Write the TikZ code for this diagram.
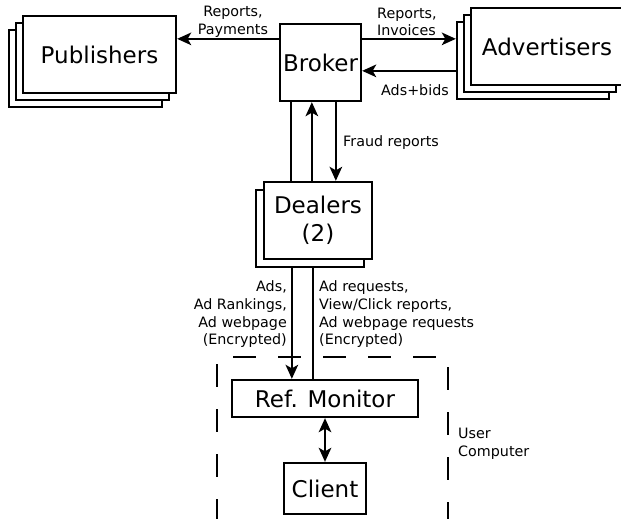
\documentclass[tikz,border=0pt]{standalone}
\usepackage{fontspec}
\setmainfont{DejaVu Sans}
\usetikzlibrary{arrows.meta}
\begin{document}
\begin{tikzpicture}[x=1pt,y=-1pt,
  box/.style={draw, line width=2.3pt, fill=white, inner sep=0pt,
              font=\fontsize{23}{28}\selectfont, align=center},
  lbl/.style={font=\fontsize{14.3}{17.7}\selectfont, inner sep=0pt},
  wire/.style={line width=2.3pt},
  arr/.style={wire, -{Stealth[length=14pt,width=12.5pt,inset=3.5pt]}},
  dbl/.style={wire, {Stealth[length=14pt,width=12.5pt,inset=3.5pt]}-{Stealth[length=14pt,width=12.5pt,inset=3.5pt]}},
  fence/.style={line width=2.3pt, dash pattern=on 23pt off 22pt}]

\useasboundingbox (0,0) rectangle (621,519);
\clip (0,0) rectangle (621,519);

% Publishers (stack of three)
\node[box, minimum width=153pt, minimum height=77pt] (pubC) at (85.5,68.5) {};
\node[box, minimum width=153pt, minimum height=77pt] (pubB) at (92.5,61.5) {};
\node[box, minimum width=153pt, minimum height=77pt] (pubA) at (99.5,54.5) {Publishers};

% Broker
\node[box, minimum width=81pt, minimum height=77pt] (broker) at (320.5,62.5) {Broker};

% Advertisers (stack of three)
\node[box, minimum width=152pt, minimum height=77pt] (advC) at (533,60.5) {};
\node[box, minimum width=152pt, minimum height=77pt] (advB) at (540,53.5) {};
\node[box, minimum width=152pt, minimum height=77pt] (advA) at (547,46.5) {Advertisers};

% Dealers (stack of two)
\node[box, minimum width=108pt, minimum height=77pt] (dealB) at (310,228.5) {};
\node[box, minimum width=108pt, minimum height=77pt] (dealA) at (318,220.5) {Dealers\\(2)};

% User computer
\node[box, minimum width=186pt, minimum height=37pt] (refmon) at (325,398.5) {Ref. Monitor};
\node[box, minimum width=82pt, minimum height=51pt] (client) at (325,488.5) {Client};

% Helper points on the broker and dealers borders
\coordinate (bkHi) at ([yshift=-16pt]broker.north east);
\coordinate (bkLo) at ([yshift=-48pt]broker.north east);
\coordinate (bkHiW) at ([yshift=-16pt]broker.north west);
\coordinate (bkS1) at ([xshift=12pt]broker.south west);
\coordinate (bkS2) at ([xshift=33pt]broker.south west);
\coordinate (bkS3) at ([xshift=57pt]broker.south west);
\coordinate (dlS1) at ([xshift=37pt]dealB.south west);
\coordinate (dlS2) at ([xshift=58pt]dealB.south west);

% Broker connections
\draw[arr] (bkHiW) -- (bkHiW -| pubA.east);
\draw[arr] (bkHi) -- (bkHi -| advC.west);
\draw[arr] (bkLo -| advC.west) -- (bkLo);
\draw[wire] (bkS1) -- (bkS1 |- dealA.north);
\draw[arr] (bkS2 |- dealA.north) -- (bkS2);
\draw[arr] (bkS3) -- (bkS3 |- dealA.north);

% Dealers to reference monitor
\draw[arr] (dlS1) -- (dlS1 |- refmon.north);
\draw[wire] (dlS2) -- (dlS2 |- refmon.north);

% Reference monitor to client
\draw[dbl] (refmon.south) -- (client.north);

% Dashed enclosure of the user computer
\coordinate (encTL) at (233,357);
\coordinate (encTR) at (448,357);
\coordinate (encL) at (217,364);
\coordinate (encLB) at (217,520);
\coordinate (encR) at (448,367);
\coordinate (encRB) at (448,520);
\draw[fence] (encTL) -- (encTR);
\draw[fence] (encL) -- (encL |- encLB);
\draw[fence] (encR) -- (encR |- encRB);
\draw[fence] (encLB) -- (encRB);

% Labels
\node[lbl, align=center] (lpub) at (233,22) {Reports,\\Payments};
\node[lbl, align=left, anchor=west] (ladv) at (377,22) {Reports,\\Invoices};
\node[lbl] (lbids) at (415,90) {Ads+bids};
\node[lbl, anchor=west] (lfraud) at (343,143) {Fraud reports};
\node[lbl, align=right, anchor=east] (ldown) at (287,314.5)
  {Ads,\\Ad Rankings,\\Ad webpage\\(Encrypted)};
\node[lbl, align=left, anchor=west] (lup) at (319,314.5)
  {Ad requests,\\View/Click reports,\\Ad webpage requests\\(Encrypted)};
\node[lbl, align=left, anchor=west] (luser) at (458,444) {User\\Computer};
\end{tikzpicture}
\end{document}
